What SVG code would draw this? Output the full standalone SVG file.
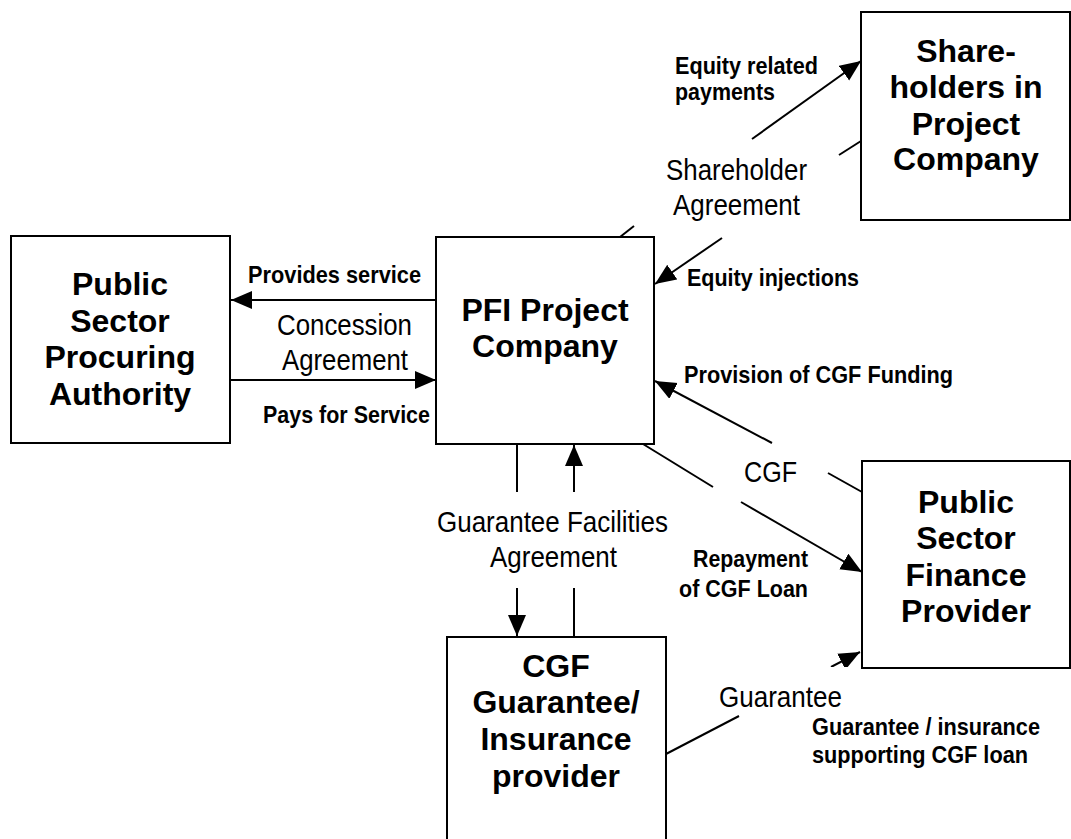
<svg xmlns="http://www.w3.org/2000/svg" width="1071" height="839" viewBox="0 0 1071 839">
<style>
.box{fill:#fff;stroke:#000;stroke-width:2}
.bt{font-family:"Liberation Sans",Arial,sans-serif;font-weight:bold;font-size:32px;text-anchor:middle;fill:#000}
.lb{font-family:"Liberation Sans Narrow","Liberation Sans",Arial,sans-serif;font-weight:bold;font-size:24px;fill:#000}
.lr{font-family:"Liberation Sans Narrow","Liberation Sans",Arial,sans-serif;font-size:30px;fill:#000}
.ln{stroke:#000;stroke-width:2;fill:none}
.ar{marker-end:url(#ah)}
</style>
<defs>
<marker id="ah" markerUnits="userSpaceOnUse" markerWidth="22" markerHeight="20" refX="21" refY="9" orient="auto">
<path d="M0,0 L21,9 L0,18 z" fill="#000"/>
</marker>
<clipPath id="gclip"><rect x="800" y="600" width="100" height="67"/></clipPath>
</defs>
<rect width="1071" height="839" fill="#fff"/>
<g id="connectors">
<line class="ln ar" x1="437" y1="300" x2="231" y2="300"/>
<line class="ln ar" x1="230" y1="380" x2="436" y2="380"/>
<line class="ln" x1="620" y1="237" x2="634" y2="226"/>
<line class="ln ar" x1="752" y1="139" x2="861" y2="61"/>
<line class="ln" x1="839" y1="155" x2="861" y2="141"/>
<line class="ln ar" x1="722" y1="238" x2="655" y2="284"/>
<line class="ln ar" x1="772" y1="443" x2="655" y2="381"/>
<line class="ln" x1="828" y1="473" x2="862" y2="492"/>
<line class="ln" x1="643" y1="444" x2="713" y2="487"/>
<line class="ln ar" x1="741" y1="502" x2="862" y2="572"/>
<line class="ln" x1="517" y1="444" x2="517" y2="492"/>
<line class="ln ar" x1="574" y1="492" x2="574" y2="445"/>
<line class="ln ar" x1="517" y1="588" x2="517" y2="636"/>
<line class="ln" x1="574" y1="588" x2="574" y2="637"/>
<line class="ln" x1="666" y1="754" x2="739" y2="716"/>
<line class="ln ar" x1="831" y1="667" x2="860" y2="652" clip-path="url(#gclip)"/>
</g>
<g id="procuring">
<rect class="box" x="11" y="236" width="219" height="207"/>
<text class="bt" x="120" y="295">Public</text>
<text class="bt" x="120" y="332">Sector</text>
<text class="bt" x="120" y="368">Procuring</text>
<text class="bt" x="120" y="405">Authority</text>
</g>
<g id="pfi">
<rect class="box" x="436" y="237" width="218" height="207"/>
<text class="bt" x="545" y="321">PFI Project</text>
<text class="bt" x="545" y="357">Company</text>
</g>
<g id="shareholders">
<rect class="box" x="861" y="12" width="209" height="208"/>
<text class="bt" x="966" y="62">Share-</text>
<text class="bt" x="966" y="98">holders in</text>
<text class="bt" x="966" y="135">Project</text>
<text class="bt" x="966" y="170">Company</text>
</g>
<g id="finance">
<rect class="box" x="862" y="461" width="208" height="207"/>
<text class="bt" x="966" y="513">Public</text>
<text class="bt" x="966" y="549">Sector</text>
<text class="bt" x="966" y="586">Finance</text>
<text class="bt" x="966" y="622">Provider</text>
</g>
<g id="cgf">
<rect class="box" x="447" y="637" width="219" height="220"/>
<text class="bt" x="556" y="677">CGF</text>
<text class="bt" x="556" y="713">Guarantee/</text>
<text class="bt" x="556" y="750">Insurance</text>
<text class="bt" x="556" y="787">provider</text>
</g>
<g id="labels">
<text class="lb" x="675" y="74" textLength="143" lengthAdjust="spacingAndGlyphs">Equity related</text>
<text class="lb" x="675" y="100" textLength="100" lengthAdjust="spacingAndGlyphs">payments</text>
<text class="lr" x="666" y="180" textLength="141" lengthAdjust="spacingAndGlyphs">Shareholder</text>
<text class="lr" x="673" y="215" textLength="127" lengthAdjust="spacingAndGlyphs">Agreement</text>
<text class="lb" x="687" y="286" textLength="172" lengthAdjust="spacingAndGlyphs">Equity injections</text>
<text class="lb" x="248" y="283" textLength="173" lengthAdjust="spacingAndGlyphs">Provides service</text>
<text class="lr" x="277" y="335" textLength="135" lengthAdjust="spacingAndGlyphs">Concession</text>
<text class="lr" x="282" y="370" textLength="126" lengthAdjust="spacingAndGlyphs">Agreement</text>
<text class="lb" x="263" y="423" textLength="167" lengthAdjust="spacingAndGlyphs">Pays for Service</text>
<text class="lb" x="684" y="383" textLength="269" lengthAdjust="spacingAndGlyphs">Provision of CGF Funding</text>
<text class="lr" x="744" y="482" textLength="53" lengthAdjust="spacingAndGlyphs">CGF</text>
<text class="lr" x="437" y="532" textLength="231" lengthAdjust="spacingAndGlyphs">Guarantee Facilities</text>
<text class="lr" x="490" y="567" textLength="127" lengthAdjust="spacingAndGlyphs">Agreement</text>
<text class="lb" x="693" y="567" textLength="115" lengthAdjust="spacingAndGlyphs">Repayment</text>
<text class="lb" x="679" y="597" textLength="129" lengthAdjust="spacingAndGlyphs">of CGF Loan</text>
<text class="lr" x="719" y="707" textLength="123" lengthAdjust="spacingAndGlyphs">Guarantee</text>
<text class="lb" x="812" y="735" textLength="228" lengthAdjust="spacingAndGlyphs">Guarantee / insurance</text>
<text class="lb" x="812" y="763" textLength="216" lengthAdjust="spacingAndGlyphs">supporting CGF loan</text>
</g>
</svg>
